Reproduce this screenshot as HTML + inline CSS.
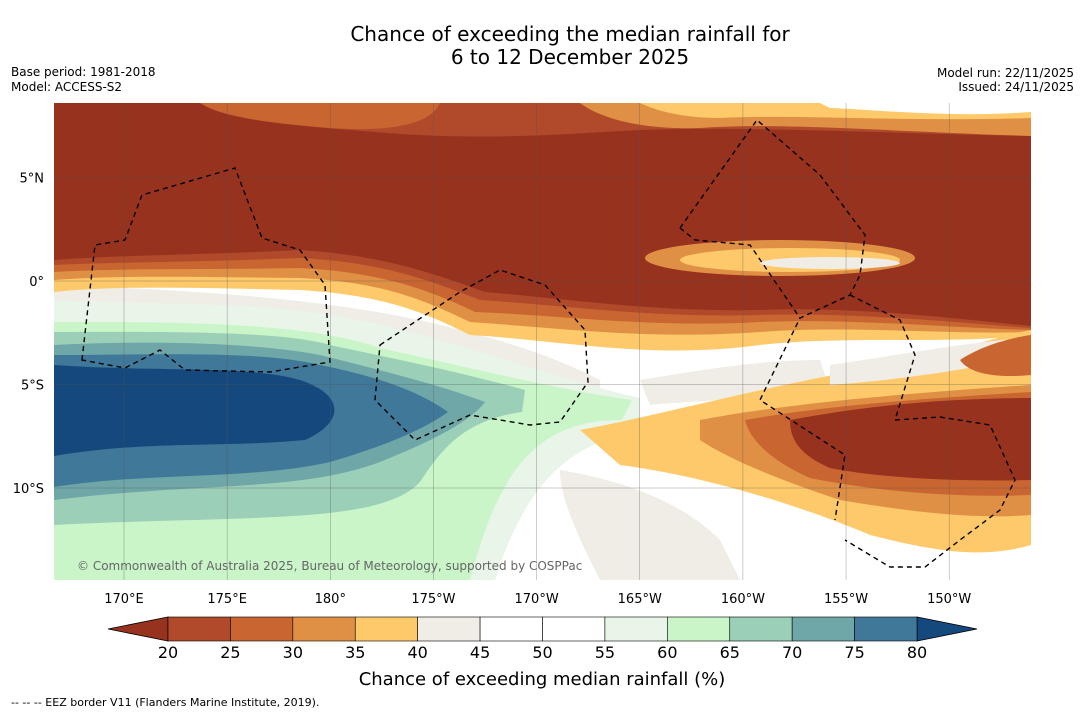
<!DOCTYPE html>
<html><head><meta charset="utf-8">
<style>
html,body{margin:0;padding:0;background:#fff;}
body{width:1085px;height:713px;overflow:hidden;font-family:"DejaVu Sans","Liberation Sans",sans-serif;}
svg text{font-family:"DejaVu Sans","Liberation Sans",sans-serif;}
</style></head>
<body>
<svg id="chart" width="1085" height="713" viewBox="0 0 1085 713" xmlns="http://www.w3.org/2000/svg">
<text x="570" y="41" font-size="20" text-anchor="middle">Chance of exceeding the median rainfall for</text>
<text x="570" y="64" font-size="20" text-anchor="middle">6 to 12 December 2025</text>
<text x="11" y="76" font-size="12">Base period: 1981-2018</text>
<text x="11" y="91" font-size="12">Model: ACCESS-S2</text>
<text x="1074" y="77" font-size="12" text-anchor="end">Model run: 22/11/2025</text>
<text x="1074" y="91" font-size="12" text-anchor="end">Issued: 24/11/2025</text>

<defs><clipPath id="mapclip"><rect x="54" y="103" width="977" height="477"/></clipPath></defs>
<g clip-path="url(#mapclip)">
<rect x="54" y="103" width="977" height="477" fill="#ffffff"/>
<path fill="#f0ece6" d="M54,285 C200,290 350,300 460,330 C520,345 560,360 600,380 L600,395 C520,380 420,350 300,330 C200,320 120,315 54,312 Z"/>
<path fill="#f0ece6" d="M560,470 C620,480 680,500 720,540 L740,580 L600,580 C580,540 560,500 560,470 Z"/>
<path fill="#f0ece6" d="M640,380 C700,370 760,360 820,360 L830,390 C760,400 700,400 650,405 Z"/>
<path fill="#e8f5e8" d="M54,300 C150,305 250,300 350,318 C450,338 560,380 640,398 L640,432 C560,442 520,500 495,580 L54,580 Z"/>
<path fill="#c9f5c9" d="M54,322 C150,322 300,320 380,348 C480,370 560,390 632,400 L622,420 C540,420 500,465 470,580 L54,580 Z"/>
<path fill="#9ccfb8" d="M54,332 C150,332 280,330 330,345 C400,360 460,372 525,390 L522,412 C462,420 440,452 420,482 C380,525 250,515 54,525 Z"/>
<path fill="#6fa6a8" d="M54,345 C150,340 260,343 320,355 C380,370 440,385 485,402 C470,422 430,442 380,462 C300,492 200,482 54,500 Z"/>
<path fill="#3f7898" d="M54,355 C150,355 260,350 320,365 C380,377 420,392 448,412 C420,432 380,447 330,462 C250,480 150,472 54,487 Z"/>
<path fill="#15497e" d="M54,365 C150,372 250,365 300,380 C345,395 345,422 305,440 C220,448 150,440 54,456 Z"/>
<path fill="#fdc96a" d="M54,103 L1031,103 L1031,335 C950,345 850,335 760,345 C650,360 560,340 470,335 C420,310 380,295 300,290 C200,288 120,285 54,292 Z"/>
<path fill="#e09045" d="M54,103 L1031,103 L1031,332 C950,335 850,325 760,332 C650,340 560,328 470,322 C420,298 380,282 300,278 C200,277 120,275 54,280 Z"/>
<path fill="#c96530" d="M54,103 L1031,103 L1031,330 C950,328 850,318 760,322 C650,328 560,315 475,312 C430,290 380,272 300,268 C200,270 120,268 54,272 Z"/>
<path fill="#b04a2a" d="M54,103 L1031,103 L1031,328 C950,322 850,312 760,315 C650,318 560,305 480,300 C430,280 380,262 300,258 C200,262 120,262 54,265 Z"/>
<path fill="#97321f" d="M54,103 L200,103 C230,122 300,126 400,134 C500,140 560,134 640,130 C760,126 900,134 1031,136 L1031,326 C950,318 850,306 760,310 C650,312 560,298 485,292 C430,272 380,255 300,250 C200,255 120,255 54,260 Z"/>
<path fill="#c96530" d="M200,103 L440,103 C430,125 390,132 330,128 C260,122 220,116 200,103 Z"/>
<path fill="#e09045" d="M580,103 L1031,103 L1031,136 C900,132 780,122 700,128 C640,130 600,118 580,103 Z"/>
<path fill="#fdc96a" d="M640,103 L1031,103 L1031,118 C900,122 800,114 720,118 C680,118 655,110 640,103 Z"/>
<path fill="#ffffff" d="M820,103 L1031,103 L1031,112 C950,118 880,110 830,108 Z"/>
<ellipse cx="780" cy="258" rx="135" ry="18" fill="#e09045"/>
<ellipse cx="790" cy="260" rx="110" ry="12" fill="#fdc96a"/>
<ellipse cx="830" cy="263" rx="70" ry="6" fill="#f0ece6"/>
<path fill="#fdc96a" d="M580,430 C660,415 750,390 860,370 C950,355 1000,335 1031,330 L1031,545 C980,560 930,550 870,535 C800,505 700,475 620,465 Z"/>
<path fill="#f0ece6" d="M830,365 C900,355 980,340 1031,338 L1031,355 C980,368 900,380 830,385 Z"/>
<path fill="#e09045" d="M700,420 C780,405 880,395 1031,385 L1031,515 C970,520 900,510 840,500 C780,480 730,460 700,440 Z"/>
<path fill="#c96530" d="M745,420 C830,405 930,398 1031,392 L1031,495 C960,498 880,492 810,478 C770,460 750,440 745,420 Z"/>
<path fill="#97321f" d="M790,420 C870,405 950,398 1031,398 L1031,480 C960,482 880,478 830,468 C800,455 790,440 790,420 Z"/>
<path fill="#c96530" d="M960,360 C990,340 1031,335 1031,335 L1031,375 C1000,378 970,375 960,360 Z"/>
</g>

<g id="grid"></g>

<g fill="none" stroke="#000" stroke-width="1.4" stroke-dasharray="5,4">
<path d="M82,360 L95,245 L125,240 L142,195 L235,168 L262,238 L300,250 L325,285 L330,362 L270,372 L185,370 L160,350 L125,368 Z"/>
<path d="M380,345 L460,292 L500,270 L545,285 L585,330 L588,382 L560,422 L530,425 L470,415 L415,440 L375,400 Z"/>
<path d="M680,228 L757,120 L820,175 L865,235 L860,275 L850,295 L800,318 L760,400 L845,455 L835,520"/>
<path d="M680,228 L695,240 L750,245 L800,318"/>
<path d="M850,295 L900,320 L915,355 L895,420 L940,417 L990,425 L1015,480 L1000,510 L960,540 L925,567 L890,567 L845,540"/>
</g>

<text x="77" y="570" font-size="12" fill="#666">© Commonwealth of Australia 2025, Bureau of Meteorology, supported by COSPPac</text>

<g id="axes"></g>
<g id="colorbar"></g>

<text x="542" y="685" font-size="18" text-anchor="middle">Chance of exceeding median rainfall (%)</text>
<text x="11" y="706" font-size="11">--  --  -- EEZ border V11 (Flanders Marine Institute, 2019).</text>
</svg>
<script>
const lonLabels = ["170°E","175°E","180°","175°W","170°W","165°W","160°W","155°W","150°W"];
const lonValues = [170,175,180,185,190,195,200,205,210];
const latLabels = ["5°N","0°","5°S","10°S"];
const latValues = [5,0,-5,-10];
const cbTicks = [20,25,30,35,40,45,50,55,60,65,70,75,80];
const cbColors = ["#b04a2a","#c96530","#e09045","#fdc96a","#f0ece6","#ffffff","#ffffff","#e8f5e8","#c9f5c9","#9ccfb8","#6fa6a8","#3f7898"];
const cbUnder = "#97321f";
const cbOver = "#15497e";

const NS = "http://www.w3.org/2000/svg";
const xLon = v => 124 + (v - 170) * 20.63;
const yLat = v => 281 - v * 20.7;
const xCb = v => 168 + (v - 20) * (917 - 168) / 60;
function mk(tag, attrs, parent){const e=document.createElementNS(NS,tag);for(const k in attrs)e.setAttribute(k,attrs[k]);parent.appendChild(e);return e;}

const grid = document.getElementById('grid');
const axes = document.getElementById('axes');
lonValues.forEach((v,i)=>{
  const l = mk('line',{x1:xLon(v),x2:xLon(v),y1:103,y2:580,stroke:'#555','stroke-width':0.5,'stroke-opacity':0.6},grid);
  
  
  const t = mk('text',{x:xLon(v),y:603,'font-size':13,'text-anchor':'middle'},axes);
  t.textContent = lonLabels[i];
  
  
});
latValues.forEach((v,i)=>{
  const l = mk('line',{x1:54,x2:1031,y1:yLat(v),y2:yLat(v),stroke:'#555','stroke-width':0.5,'stroke-opacity':0.6},grid);
  
  
  const t = mk('text',{x:44,y:yLat(v)+5,'font-size':13,'text-anchor':'end'},axes);
  t.textContent = latLabels[i];
  
  
});

const cb = document.getElementById('colorbar');
const cy0 = 617, cy1 = 641;
const under = mk('polygon',{points:`108,${(cy0+cy1)/2} ${xCb(20)},${cy0} ${xCb(20)},${cy1}`,fill:cbUnder,stroke:'#000','stroke-width':0.8},cb);


const over = mk('polygon',{points:`977,${(cy0+cy1)/2} ${xCb(80)},${cy0} ${xCb(80)},${cy1}`,fill:cbOver,stroke:'#000','stroke-width':0.8},cb);


cbColors.forEach((c,i)=>{
  const r = mk('rect',{x:xCb(cbTicks[i]),y:cy0,width:xCb(cbTicks[i+1])-xCb(cbTicks[i]),height:cy1-cy0,fill:c,stroke:'#000','stroke-width':0.6},cb);
  
  
});
cbTicks.forEach(v=>{
  const t = mk('text',{x:xCb(v),y:658,'font-size':16,'text-anchor':'middle'},cb);
  t.textContent = v;
  
  
});
</script>
</body></html>
